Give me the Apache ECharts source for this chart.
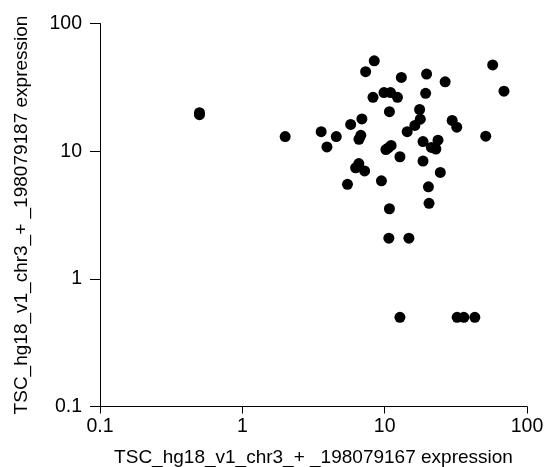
<!DOCTYPE html>
<html>
<head>
<meta charset="utf-8">
<script src="https://cdn.jsdelivr.net/npm/echarts@6/dist/echarts.min.js"></script>
<style>html,body{margin:0;padding:0;background:#fff}#c{width:547px;height:467px}</style>
</head>
<body>
<div id="c"></div>
<script>
const xTitle = 'TSC_hg18_v1_chr3_+ _198079167 expression';
const yTitle = 'TSC_hg18_v1_chr3_+ _198079187 expression';
const xValues = [0.5, 0.5, 2.0, 3.58, 3.93, 4.57, 5.48, 5.77, 6.25, 6.58, 6.6, 6.8, 6.92, 7.23, 7.35, 8.28, 8.45, 9.49, 9.89, 10.2, 10.6, 11.1, 10.7, 10.8, 10.8, 11.0, 12.3, 12.8, 12.8, 13.1, 14.4, 14.8, 16.3, 17.6, 17.8, 18.6, 18.6, 19.4, 19.7, 20.3, 20.5, 21.3, 22.9, 23.7, 24.6, 26.6, 29.8, 32.1, 32.3, 36.0, 43.0, 51.3, 57.4, 68.9];
const yValues = [19.3, 20.0, 13.0, 14.2, 10.8, 13.0, 5.5, 16.2, 7.4, 8.0, 12.4, 13.3, 17.9, 7.0, 41.9, 26.4, 51, 5.86, 28.8, 10.3, 10.6, 11.1, 2.08, 20.4, 3.54, 28.8, 26.4, 9.04, 0.5, 37.8, 14.2, 2.08, 15.9, 21.2, 17.8, 11.9, 8.36, 28.4, 40.2, 5.26, 3.9, 10.7, 10.4, 12.2, 6.82, 34.9, 17.4, 15.4, 0.5, 0.5, 0.5, 13.1, 47.4, 29.5];
const axisTicks = [0.1, 1, 10, 100];

const font = 'Liberation Sans, Arial, sans-serif';
const chart = echarts.init(document.getElementById('c'), null, {renderer: 'canvas'});
chart.setOption({
  animation: false,
  backgroundColor: '#ffffff',
  grid: {left: 100, right: 20, top: 23.5, bottom: 60.5, containLabel: false, outerBoundsMode: 'none'},
  xAxis: {
    type: 'log', logBase: 10, min: axisTicks[0], max: axisTicks[axisTicks.length - 1],
    name: xTitle, nameLocation: 'middle', nameGap: 42,
    nameTextStyle: {fontFamily: font, fontSize: 19, color: '#000'},
    axisLine: {show: true, lineStyle: {color: '#000', width: 1}},
    axisTick: {show: true, length: 7, lineStyle: {color: '#000'}},
    minorTick: {show: false},
    splitLine: {show: false},
    axisLabel: {fontFamily: font, fontSize: 19.5, color: '#000', margin: 10,
      formatter: v => String(+v.toPrecision(3))}
  },
  yAxis: {
    type: 'log', logBase: 10, min: axisTicks[0], max: axisTicks[axisTicks.length - 1],
    name: yTitle, nameLocation: 'middle', nameGap: 69, nameRotate: 90,
    nameTextStyle: {fontFamily: font, fontSize: 19, color: '#000'},
    axisLine: {show: true, lineStyle: {color: '#000', width: 1}},
    axisTick: {show: true, length: 10, lineStyle: {color: '#000'}},
    minorTick: {show: false},
    splitLine: {show: false},
    axisLabel: {fontFamily: font, fontSize: 19.5, color: '#000', margin: 18,
      formatter: v => String(+v.toPrecision(3))}
  },
  series: [{
    type: 'scatter',
    symbol: 'circle',
    symbolSize: 11,
    itemStyle: {color: '#000', opacity: 1},
    data: xValues.map((x, i) => [x, yValues[i]])
  }]
});
</script>
</body>
</html>
